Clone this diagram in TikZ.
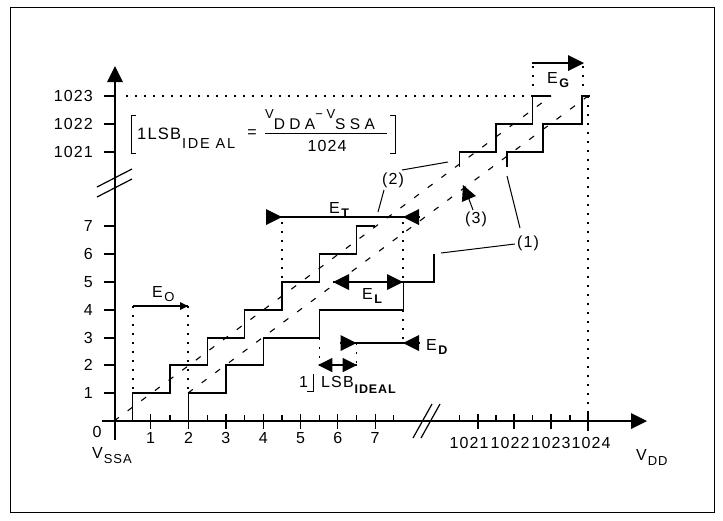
\documentclass[tikz,border=0pt]{standalone}
\usepackage{fontspec}
\setmainfont{Liberation Sans}[LetterSpace=7]
\usetikzlibrary{arrows.meta}
\newcommand\labfont{\fontsize{16}{17}\selectfont}
\newcommand\subbf{\fontsize{12.5}{13}\selectfont\bfseries}
\newcommand\subrm{\fontsize{13}{14}\selectfont}
\newcommand\Esub[1]{E\kern1.5pt\raisebox{-4pt}{#1}}
\begin{document}
\begin{tikzpicture}[x=1pt,y=-1pt,
  ln/.style={line width=1.2pt},
  lead/.style={line width=1pt},
  dotl/.style={line width=1.2pt,dash pattern=on 2pt off 7pt},
  dashl/.style={line width=1.1pt,dash pattern=on 6pt off 11pt},
  lab/.style={inner sep=0pt,font=\labfont},
  tri/.pic={\fill (0,0) -- (-16,-8) -- (-16,8) -- cycle;}
]
\useasboundingbox (0,0) rectangle (723,520);
\draw[line width=0.8pt] (10,7) rectangle (714,512);

% axes
\draw[ln] (115,440) -- (115,78);
\pic[rotate=90] at (115,66) {tri};
\draw[ln] (102,421) -- (634,421);
\pic at (647,421) {tri};

% y ticks and labels
\foreach \yy/\t [count=\i] in {393/1,365/2,338/3,310/4,282/5,254/6,226/7,152/1021,124/1022,96/1023}{
  \draw[ln] (104,\yy) -- (115,\yy);
  \node[lab,anchor=east] (yl\i) at (93,\yy) {\t};
}
\node[lab] (y0) at (97,432) {0};

% x ticks and labels
\foreach \xx/\t [count=\i] in {150.5/1,188.6/2,225.9/3,263.2/4,300.5/5,337.8/6,375.1/7}{
  \draw[ln] (\xx,414) -- (\xx,429);
  \node[lab] (xl\i) at (\xx,438) {\t};
}
\foreach \xx in {170,207.3,244.6,281.9,319.2,356.5,393.8,459.5,496,532.5,570}
  \draw[ln] (\xx,415) -- (\xx,421);
\foreach \xx in {478,514,551}
  \draw[ln] (\xx,414) -- (\xx,429);
\draw[ln] (588,412) -- (588,431);
\foreach \xx/\t [count=\i] in {469/1021,510/1022,551/1023,591/1024}
  \node[lab] (xr\i) at (\xx,443) {\t};

% axis names
\node[lab,anchor=base west] (vssa) at (92,458) {V\kern1pt\raisebox{-5pt}{\subrm SSA}};
\node[lab,anchor=base west] (vdd) at (636,460) {V\kern1pt\raisebox{-5pt}{\subrm DD}};

% breaks
\draw[ln] (97,187) -- (132,169);
\draw[ln] (97,197) -- (132,179);
\draw[ln] (413,438) -- (432,404);
\draw[ln] (421,438) -- (440,404);

% dashed straight lines
\draw[dashl] (114,421) -- (551,96);
\draw[dashl] (188,393) -- (588,96);

% staircases
\draw[ln] (132.7,421) |- (170,393) |- (207.3,365) |- (244.6,338) |- (281.9,310) |- (319.2,282) |- (356.5,254) |- (375.1,226);
\draw[ln] (188.6,421) |- (225.9,393) |- (263.2,365) |- (319.2,338) |- (403.1,310) |- (434,282) -- (434,254);
\draw[ln] (459.5,167) |- (496,152) |- (532.5,124) |- (551,96);
\draw[ln] (507,167) |- (543,152) |- (582,124) |- (590,96);

% dotted guide lines
\draw[dotl] (126,96) -- (532,96);
\draw[dotl] (588,96) -- (588,412);
\draw[dotl] (533,66) -- (533,92);
\draw[dotl] (583,66) -- (583,92);
\draw[dotl] (133,306) -- (133,393);
\draw[dotl] (188,306) -- (188,393);
\draw[dotl] (282,222) -- (282,282);
\draw[dotl] (403,222) -- (403,282);
\draw[dotl] (403,310) -- (403,343);
\draw[dotl] (319.2,338) -- (319.2,365);
\draw[dotl] (356.5,343) -- (356.5,365);

% E_O
\draw[ln] (133,306) -- (188,306);
\pic[scale=0.5] at (188,306) {tri};
\node[lab,anchor=base west] (eo) at (152,297) {\Esub{\subrm O}};
% E_T
\draw[ln] (266,217) -- (420,217);
\pic at (282,217) {tri};
\pic[rotate=180] at (403,217) {tri};
\node[lab,anchor=base west] (et) at (329,213) {\Esub{\subbf T}};
% E_L
\draw[ln] (333,282) -- (403,282);
\pic[rotate=180] at (333,282) {tri};
\pic at (403,282) {tri};
\node[lab,anchor=base west] (el) at (362,299) {\Esub{\subbf L}};
% E_D
\draw[ln] (340,343) -- (414,343);
\draw[ln] (416,343) -- (420,343);
\pic at (356.5,343) {tri};
\pic[rotate=180] at (403,343) {tri};
\node[lab,anchor=base west] (ed) at (426,350) {\Esub{\subbf D}};
% 1 LSB ideal
\draw[ln] (319,365) -- (357,365);
\pic[rotate=180,scale=0.9] at (318,365) {tri};
\pic[scale=0.9] at (357,365) {tri};
\node[lab,anchor=base west] (one) at (299,387) {1};
\draw[lead] (313,374) -- (313,391) -- (307,391);
\node[lab,anchor=base west] (lsbi) at (321,387) {LSB\kern1pt\raisebox{-6pt}{\subbf IDEAL}};
% E_G
\draw[ln] (532,63) -- (575,63);
\pic at (584,63) {tri};
\node[lab,anchor=base west] (eg) at (547,83) {\Esub{\subbf G}};

% callouts
\node[lab] (c1) at (528,243) {(1)};
\node[lab] (c2) at (393,180) {(2)};
\node[lab] (c3) at (476,219) {(3)};
\draw[lead] (c1.west) ++(-2,1) -- (441,253);
\draw[lead] (520,228) -- (507,176);
\draw[lead] (402,170) -- (448,162);
\draw[lead] (384,190) -- (378,212);
\draw[lead] (473,210) -- (467,194);
\pic[rotate=113,scale=0.95] at (463,185) {tri};

% formula
\draw[lead] (136,115) -- (131,115) -- (131,153) -- (136,153);
\draw[lead] (390,115) -- (395,115) -- (395,153) -- (390,153);
\node[anchor=base west,inner sep=0pt,font=\fontsize{16.5}{17}\selectfont] (f1) at (137,139) {1LSB};
\node[anchor=base west,inner sep=0pt,font=\fontsize{14.5}{15}\selectfont\addfontfeature{LetterSpace=12}] (f2) at (182,148) {IDE AL};
\node[lab] (feq) at (252,134) {=};
\node[anchor=base west,inner sep=0pt,font=\fontsize{15.5}{16}\selectfont\addfontfeature{LetterSpace=28}] (fnum) at (265,129)
  {\raisebox{11pt}{\fontsize{13}{13}\selectfont V}DDA\raisebox{11pt}{\fontsize{13}{13}\selectfont −V}SSA};
\draw[lead] (265,133) -- (387,133);
\node[lab] (fden) at (327,146) {1024};
\end{tikzpicture}
\end{document}
